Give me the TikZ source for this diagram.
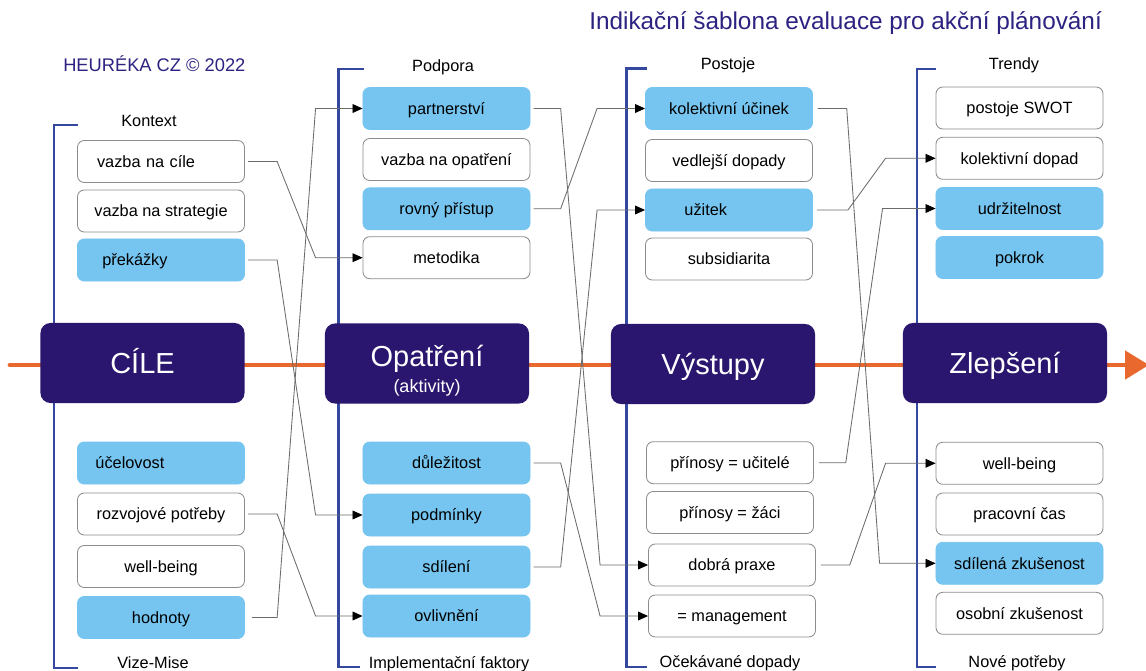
\documentclass[tikz,border=0pt]{standalone}
\usepackage{fontspec}
\setmainfont{Liberation Sans}
\usetikzlibrary{arrows.meta,calc}
\definecolor{heurnavy}{RGB}{42,22,110}
\definecolor{heurtitle}{RGB}{44,34,130}
\definecolor{heursky}{RGB}{117,197,240}
\definecolor{heurline}{RGB}{52,72,160}
\definecolor{heurorange}{RGB}{232,104,46}
\definecolor{heurgray}{RGB}{140,140,140}

\begin{document}
\begin{tikzpicture}[x=0.025cm, y=-0.025cm,
    item/.style={draw=heurgray, line width=0.6pt, rounded corners=0.17cm, fill=white, minimum width=4.175cm, minimum height=1.05cm, text height=8.3pt, text depth=0pt, font=\fontsize{11.6}{14}\selectfont},
    hot/.style={item, draw=heursky, fill=heursky},
    stagebase/.style={fill=heurnavy, rounded corners=0.25cm, minimum width=5.1cm, minimum height=2cm, text=white},
    stage/.style={stagebase, text height=14.75pt, text depth=0pt, font=\fontsize{20.6}{24}\selectfont},
    bracket/.style={draw=heurline, line width=1.8pt},
    head/.style={inner sep=0pt, anchor=base, font=\fontsize{11.6}{14}\selectfont},
    link/.style={draw=black!58, line width=0.6pt, -{Triangle[length=0.25cm, width=0.22cm, color=black]}}]
    \useasboundingbox (0,0) rectangle (1146,671);
    \fill[white] (0,0) rectangle (1146,671);

    % Titles
    \node[inner sep=0pt, anchor=base west, text=heurtitle, font=\fontsize{17.3}{20}\selectfont] (title) at (589,29.3) {Indikační šablona evaluace pro akční plánování};
    \node[inner sep=0pt, anchor=base west, text=heurtitle, font=\fontsize{13}{16}\selectfont] (heureka) at (63,71.7) {HEURÉKA CZ © 2022};

    % Time line
    \coordinate (tstart) at (10,365);
    \coordinate (tend) at (1149,365);
    \draw[heurorange, line width=3.4pt, line cap=round, -{Triangle[length=0.6cm, width=0.7cm]}] (tstart) -- (tend);

    % Brackets
    \draw[bracket] (78,125) -- (54,125) -- (54,668) -- (78,668);
    \draw[bracket] (364,69) -- (338.5,69) -- (338.5,667) -- (360,667);
    \draw[bracket] (647,68.5) -- (626.5,68.5) -- (626.5,667) -- (647,667);
    \draw[bracket] (936,69) -- (917,69) -- (917,667) -- (936,667);

    % Headers
    \node[head] (kontext) at (149,126.5) {Kontext};
    \node[head] (podpora) at (443,71) {Podpora};
    \node[head] (postoje) at (728,69.5) {Postoje};
    \node[head] (trendy) at (1014,69.5) {Trendy};
    \node[head] (vize) at (153,668) {Vize-Mise};
    \node[head] (implf) at (449,668) {Implementační faktory};
    \node[head] (ocek) at (730,667.5) {Očekávané dopady};
    \node[head] (nove) at (1017,667.5) {Nové potřeby};

    % Stages
    \node[stage] (cile) at (142.5,363) {CÍLE};
    \node[stagebase, align=center, font=\fontsize{20.6}{18.6}\selectfont] (opatr) at (427,363.5) {\rule{0pt}{25pt}Opatření\\{\fontsize{12.8}{15}\selectfont (aktivity)}};
    \node[stage] (vystup) at (713,364) {Výstupy};
    \node[stage] (zleps) at (1005,363) {Zlepšení};

    % Goals
    \node[item, align=left, inner xsep=0.49cm, text width=3.195cm] (vcile) at (161,161.5) {vazba na cíle};
    \node[item] (vstrat) at (161,211) {vazba na strategie};
    \node[hot, align=left, inner xsep=0.62cm, text width=2.935cm] (prek) at (161,260) {překážky};
    \node[hot, align=left, inner xsep=0.45cm, text width=3.275cm] (ucel) at (161,463) {účelovost};
    \node[item] (rozv) at (161,514) {rozvojové potřeby};
    \node[item] (wbeing) at (161,566.5) {well-being};
    \node[hot] (hodn) at (161,617.5) {hodnoty};

    % Measures
    \node[hot] (partn) at (446.5,108.5) {partnerství};
    \node[item] (vopat) at (446.5,159.5) {vazba na opatření};
    \node[hot] (rovny) at (446.5,208.8) {rovný přístup};
    \node[item] (metod) at (446.5,257.7) {metodika};
    \node[hot] (dulez) at (446.5,463) {důležitost};
    \node[hot] (podm) at (446.5,515) {podmínky};
    \node[hot] (sdil) at (446.5,567) {sdílení};
    \node[hot] (ovliv) at (446.5,616) {ovlivnění};

    % Outputs
    \node[hot] (kolu) at (729,108.5) {kolektivní účinek};
    \node[item] (vedl) at (729,160.5) {vedlejší dopady};
    \node[hot, align=left, inner xsep=0.975cm, text width=2.225cm] (uzit) at (729,210) {užitek};
    \node[item] (subs) at (729,259) {subsidiarita};
    \node[item] (prucit) at (730,462.7) {přínosy = učitelé};
    \node[item] (przaci) at (730,512.5) {přínosy = žáci};
    \node[item] (dobra) at (732,565) {dobrá praxe};
    \node[item] (mgmt) at (732,616) {= management};

    % Improvement
    \node[item] (swot) at (1019.5,108) {postoje SWOT};
    \node[item] (koldop) at (1019.5,158.3) {kolektivní dopad};
    \node[hot] (udrz) at (1019.5,208.5) {udržitelnost};
    \node[hot] (pokrok) at (1019.5,257.5) {pokrok};
    \node[item] (wbeing2) at (1019.5,463.3) {well-being};
    \node[item] (pracas) at (1019.5,514) {pracovní čas};
    \node[hot] (sdzk) at (1019.5,563.3) {sdílená zkušenost};
    \node[item] (oszk) at (1019.5,613.3) {osobní zkušenost};

    % Links to measures
    \draw[link] ([xshift=0.08cm]vcile.east) -- ++(29,0) -- ($(metod.west)+(-47,0)$) -- (metod.west);
    \draw[link] ([xshift=0.08cm]prek.east) -- ++(29,0) -- ($(podm.west)+(-47,0)$) -- (podm.west);
    \draw[link] ([xshift=0.08cm]rozv.east) -- ++(29,0) -- ($(ovliv.west)+(-47,0)$) -- (ovliv.west);
    \draw[link] ([xshift=0.18cm]hodn.east) -- ++(25,0) -- ($(partn.west)+(-47,0)$) -- (partn.west);

    % Links to outputs
    \draw[link] ([xshift=0.08cm]partn.east) -- ++(27,0) -- ($(dobra.west)+(-48,0)$) -- (dobra.west);
    \draw[link] ([xshift=0.08cm]rovny.east) -- ++(27,0) -- ($(kolu.west)+(-48,0)$) -- (kolu.west);
    \draw[link] ([xshift=0.08cm]dulez.east) -- ++(27,0) -- ($(mgmt.west)+(-48,0)$) -- (mgmt.west);
    \draw[link] ([xshift=0.08cm]sdil.east) -- ++(27,0) -- ($(uzit.west)+(-48,0)$) -- (uzit.west);

    % Links to improvement
    \draw[link] ([xshift=0.12cm]kolu.east) -- ++(29,0) -- ($(sdzk.west)+(-56,0)$) -- (sdzk.west);
    \draw[link] ([xshift=0.1cm]uzit.east) -- ++(31,0) -- ($(koldop.west)+(-50,0)$) -- (koldop.west);
    \draw[link] ([xshift=0.12cm]prucit.east) -- ++(27,0) -- ($(udrz.west)+(-53,0)$) -- (udrz.west);
    \draw[link] ([xshift=0.12cm]dobra.east) -- ++(29,0) -- ($(wbeing2.west)+(-50,0)$) -- (wbeing2.west);
\end{tikzpicture}
\end{document}
